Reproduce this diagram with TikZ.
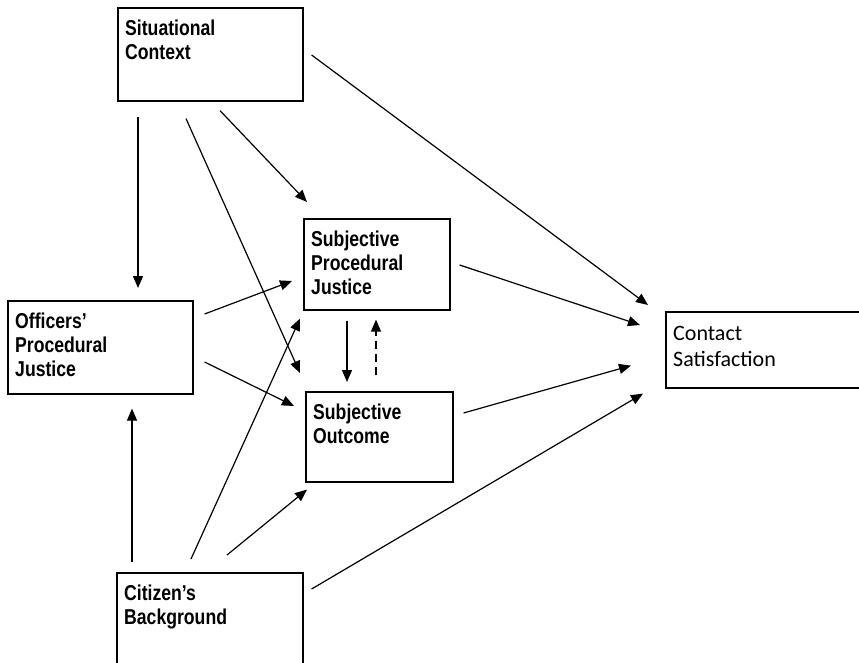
\documentclass[tikz,border=0pt]{standalone}
\usepackage{fontspec}
\setmainfont{Liberation Sans}
\newfontfamily\narrowfont[FakeStretch = 0.82]{Liberation Sans}
\newfontfamily\calibrifont{Carlito}
\usepackage{tikz}
\usetikzlibrary{arrows.meta}
\tikzstyle{model_box} = [draw, rectangle, line width = 1.6pt, inner sep = 0, anchor = north west]
\tikzstyle{model_text} = [anchor = north west, align = left, inner sep = 0, xshift = 8pt, yshift = -13pt, font = \fontsize{21.5}{24}\selectfont\narrowfont\bfseries]
\tikzstyle{model_text_light} = [anchor = north west, align = left, inner sep = 0, xshift = 8pt, yshift = -15pt, font = \fontsize{22}{26}\selectfont\calibrifont]
\tikzstyle{model_arrow} = [line width = 1.2pt, -{Triangle[length = 12pt, width = 10pt]}]
\tikzstyle{model_arrow_dashed} = [model_arrow, dash pattern = on 8pt off 5pt]

\begin{document}
\begin{tikzpicture}[x = 1pt, y = -1pt]
        \useasboundingbox (0,0) rectangle (859,663);
        \clip (0,0) rectangle (859,663);
        \node [model_box, minimum width = 185pt, minimum height = 93pt,
            label = {[model_text]north west:{Situational\\Context}}] (sc) at (117,7) {};
        \node [model_box, minimum width = 185pt, minimum height = 93pt,
            label = {[model_text]north west:{Officers’\\Procedural\\Justice}}] (opj) at (7,300) {};
        \node [model_box, minimum width = 146pt, minimum height = 91pt,
            label = {[model_text]north west:{Subjective\\Procedural\\Justice}}] (spj) at (303,218) {};
        \node [model_box, minimum width = 147pt, minimum height = 90pt,
            label = {[model_text]north west:{Subjective\\Outcome}}] (so) at (305,391) {};
        \node [model_box, minimum width = 210pt, minimum height = 76pt,
            label = {[model_text_light]north west:{Contact\\Satisfaction}}] (cs) at (665,311) {};
        \node [model_box, minimum width = 186pt, minimum height = 110pt,
            label = {[model_text]north west:{Citizen’s\\Background}}] (cb) at (116,572) {};

        \draw [model_arrow] ([shift = {(21,15)}]sc.south west) -- ([shift = {(131,-12)}]opj.north west);
        \draw [model_arrow] ([shift = {(69,17)}]sc.south west) -- ([shift = {(-5,-18)}]so.north west);
        \draw [model_arrow] ([shift = {(103,9)}]sc.south west) -- ([shift = {(4,-16)}]spj.north west);
        \draw [model_arrow] ([shift = {(8,48)}]sc.north east) -- ([shift = {(-17,-6)}]cs.north west);
        \draw [model_arrow] ([shift = {(9,47)}]spj.north east) -- ([shift = {(-25,14)}]cs.north west);
        \draw [model_arrow] ([shift = {(10,22)}]so.north east) -- ([shift = {(-34,-23)}]cs.south west);
        \draw [model_arrow] ([shift = {(8,17)}]cb.north east) -- ([shift = {(-22,5)}]cs.south west);
        \draw [model_arrow] ([shift = {(11,14)}]opj.north east) -- ([shift = {(-11,63)}]spj.north west);
        \draw [model_arrow] ([shift = {(11,62)}]opj.north east) -- ([shift = {(-11,15)}]so.north west);
        \draw [model_arrow] ([shift = {(16,-10)}]cb.north west) -- ([shift = {(125,14)}]opj.south west);
        \draw [model_arrow] ([shift = {(75,-13)}]cb.north west) -- ([shift = {(-3,8)}]spj.south west);
        \draw [model_arrow] ([shift = {(111,-17)}]cb.north west) -- ([shift = {(2,7)}]so.south west);
        \draw [model_arrow] ([shift = {(44,10)}]spj.south west) -- ([shift = {(42,-9)}]so.north west);
        \draw [model_arrow_dashed] ([shift = {(71,-16)}]so.north west) -- ([shift = {(73,9)}]spj.south west);
    \end{tikzpicture}
\end{document}
